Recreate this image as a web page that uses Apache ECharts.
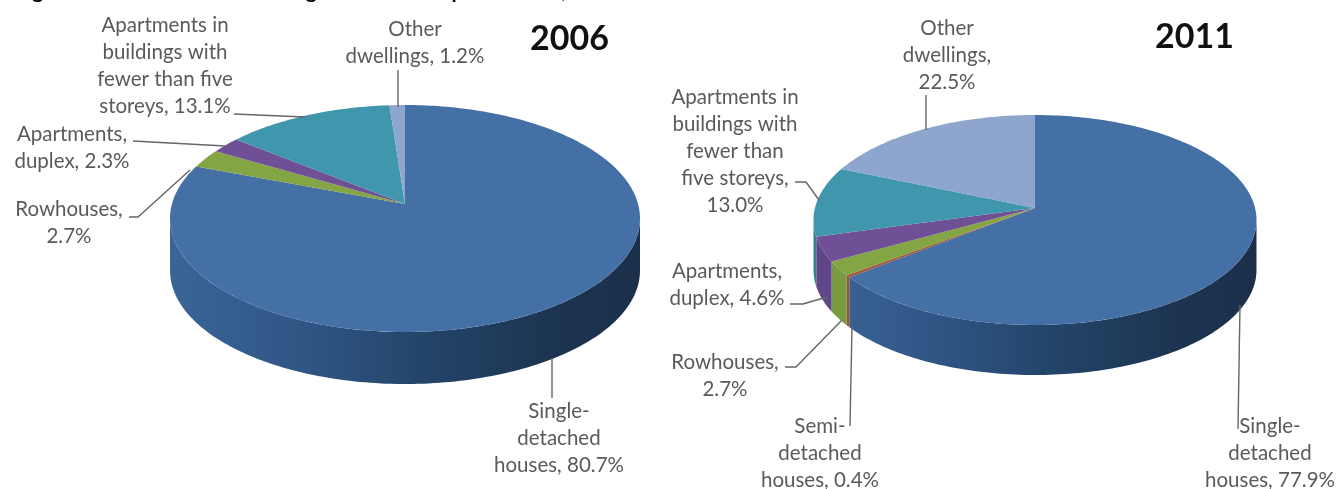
<!DOCTYPE html>
<html>
<head>
<meta charset="utf-8">
<style>html,body{margin:0;padding:0;background:#fff}#chart{width:1337px;height:489px}</style>
<script src="https://cdn.jsdelivr.net/npm/echarts@6/dist/echarts.min.js"></script>
</head>
<body>
<div id="chart"></div>
<script>
// Dwelling shares by type, clockwise from twelve o'clock
const categories2006 = ['Single-detached houses', 'Rowhouses', 'Apartments, duplex', 'Apartments in buildings with fewer than five storeys', 'Other dwellings'];
const values2006 = [80.7, 2.7, 2.3, 13.1, 1.2];
const labels2006 = ['Single-\ndetached\nhouses, 80.7%', 'Rowhouses,\n2.7%', 'Apartments,\nduplex, 2.3%', 'Apartments in\nbuildings with\nfewer than five\nstoreys, 13.1%', 'Other\ndwellings, 1.2%'];

const categories2011 = ['Single-detached houses', 'Semi-detached houses', 'Rowhouses', 'Apartments, duplex', 'Apartments in buildings with fewer than five storeys', 'Other dwellings'];
const values2011 = [77.9, 0.4, 2.7, 4.6, 13.0, 22.5];
const labels2011 = ['Single-\ndetached\nhouses, 77.9%', 'Semi-\ndetached\nhouses, 0.4%', 'Rowhouses,\n2.7%', 'Apartments,\nduplex, 4.6%', 'Apartments in\nbuildings with\nfewer than\nfive storeys,\n13.0%', 'Other\ndwellings,\n22.5%'];

const topColors = {
  'Single-detached houses': '#4470a6',
  'Semi-detached houses': '#a5563f',
  'Rowhouses': '#84a544',
  'Apartments, duplex': '#6f4f95',
  'Apartments in buildings with fewer than five storeys': '#3f96ad',
  'Other dwellings': '#8ea5cd'
};
const wallColors = {
  'Semi-detached houses': '#96503a',
  'Rowhouses': '#7a9a3f',
  'Apartments, duplex': '#5f4688',
  'Apartments in buildings with fewer than five storeys': '#357f93',
  'Other dwellings': '#7488ad'
};

// Pie projection: apex position, half width, far and near radii, wall height
const geometry2006 = { cx: 405, cy: 204, rx: 235, far: 99, near: 128, depth: 52 };
const geometry2011 = { cx: 1035, cy: 208, rx: 221.5, far: 93, near: 117, depth: 50 };

// Label centres (x, y of the first line) and leader paths, in category order
const labelLayout2006 = [
  { x: 559, y: 411, line: [[552, 358], [552, 398]] },
  { x: 69, y: 209, line: [[129, 217], [138, 217], [190, 170]] },
  { x: 72, y: 134, line: [[133, 141], [225, 146]] },
  { x: 165, y: 25, line: [[234, 114], [305, 117]] },
  { x: 415, y: 29, line: [[398, 70], [398, 107]] }
];
const labelLayout2011 = [
  { x: 1270, y: 426, line: [[1240, 305], [1238, 429]] },
  { x: 820, y: 426, line: [[852, 326], [850, 426]] },
  { x: 725, y: 362, line: [[785, 367], [796, 367], [842, 320]] },
  { x: 727, y: 271, line: [[790, 304], [803, 304], [827, 297]] },
  { x: 735, y: 97, line: [[795, 182], [806, 182], [819, 200]] },
  { x: 947, y: 28, line: [[926, 95], [926, 130]] }
];

function tilt(g) {
  return (g.near - g.far) / (g.near + g.far);
}

function project(g, angle) {
  // Perspective view of a unit circle; angle runs clockwise from twelve o'clock
  const k = tilt(g);
  const b = g.near * (1 - k);
  const a = g.rx * Math.sqrt(1 - k * k);
  const X = Math.sin(angle), Y = -Math.cos(angle);
  const w = 1 - k * Y;
  return [g.cx + a * X / w, g.cy + b * Y / w];
}

function arc(g, a0, a1) {
  const n = Math.max(2, Math.ceil((a1 - a0) / 0.02));
  const pts = [];
  for (let i = 0; i <= n; i++) pts.push(project(g, a0 + (a1 - a0) * i / n));
  return pts;
}

function rows(values) {
  const total = values.reduce((s, v) => s + v, 0);
  let run = 0;
  return values.map((v, i) => {
    const start = run / total * Math.PI * 2;
    run += v;
    return [i, v, start, run / total * Math.PI * 2];
  });
}

function wallSeries(values, names, g) {
  const frontShade = new echarts.graphic.LinearGradient(g.cx - g.rx, 0, g.cx + g.rx, 0, [
    { offset: 0, color: '#3a6597' },
    { offset: 0.3, color: '#2f5484' },
    { offset: 0.55, color: '#234468' },
    { offset: 0.8, color: '#1c3552' },
    { offset: 1, color: '#1b2f4a' }
  ], true);
  // The wall only shows between the two points where the rim is widest
  const rightLimit = Math.acos(-tilt(g));
  const leftLimit = Math.PI * 2 - rightLimit;
  return {
    type: 'custom', coordinateSystem: 'none', silent: true, z: 1,
    data: rows(values),
    renderItem(params, api) {
      const name = names[api.value(0)];
      const from = Math.max(api.value(2), rightLimit);
      const to = Math.min(api.value(3), leftLimit);
      if (to <= from) return null;
      const edge = arc(g, from, to);
      const lower = edge.slice().reverse().map(p => [p[0], p[1] + g.depth]);
      return {
        type: 'polygon',
        shape: { points: edge.concat(lower) },
        style: { fill: wallColors[name] || frontShade }
      };
    }
  };
}

function faceSeries(values, names, g) {
  return {
    type: 'custom', coordinateSystem: 'none', silent: true, z: 2,
    data: rows(values),
    renderItem(params, api) {
      const name = names[api.value(0)];
      const edge = arc(g, api.value(2), api.value(3));
      return {
        type: 'polygon',
        shape: { points: [[g.cx, g.cy]].concat(edge) },
        style: { fill: topColors[name] }
      };
    }
  };
}

function labelSeries(values, labels, layout) {
  return {
    type: 'custom', coordinateSystem: 'none', silent: true, z: 3,
    data: values.map((v, i) => [i, v]),
    renderItem(params, api) {
      const i = api.value(0);
      const place = layout[i];
      return {
        type: 'group',
        children: [
          {
            type: 'polyline',
            shape: { points: place.line },
            style: { stroke: '#666', lineWidth: 1.4, fill: null }
          },
          {
            type: 'text',
            style: {
              text: labels[i], x: place.x, y: place.y - 13.5,
              align: 'center', verticalAlign: 'top',
              font: '20.5px Lato', lineHeight: 27, fill: '#5a5a5a'
            }
          }
        ]
      };
    }
  };
}

const chart = echarts.init(document.getElementById('chart'));
chart.setOption({
  animation: false,
  backgroundColor: '#fff',
  title: [
    { text: 'Figure 6 Distribution of dwelling units in metropolitan area, 2006 and 2011', left: 10, top: -24, textStyle: { fontFamily: 'Lato', fontSize: 21, fontWeight: 'bold', color: '#000' } },
    { text: '2006', left: 525, top: 17, textStyle: { fontFamily: 'Lato', fontSize: 34, fontWeight: 'bold', color: '#111' } },
    { text: '2011', left: 1150, top: 15, textStyle: { fontFamily: 'Lato', fontSize: 34, fontWeight: 'bold', color: '#111' } }
  ],
  series: [
    wallSeries(values2006, categories2006, geometry2006),
    faceSeries(values2006, categories2006, geometry2006),
    labelSeries(values2006, labels2006, labelLayout2006),
    wallSeries(values2011, categories2011, geometry2011),
    faceSeries(values2011, categories2011, geometry2011),
    labelSeries(values2011, labels2011, labelLayout2011)
  ]
});
</script>
</body>
</html>
